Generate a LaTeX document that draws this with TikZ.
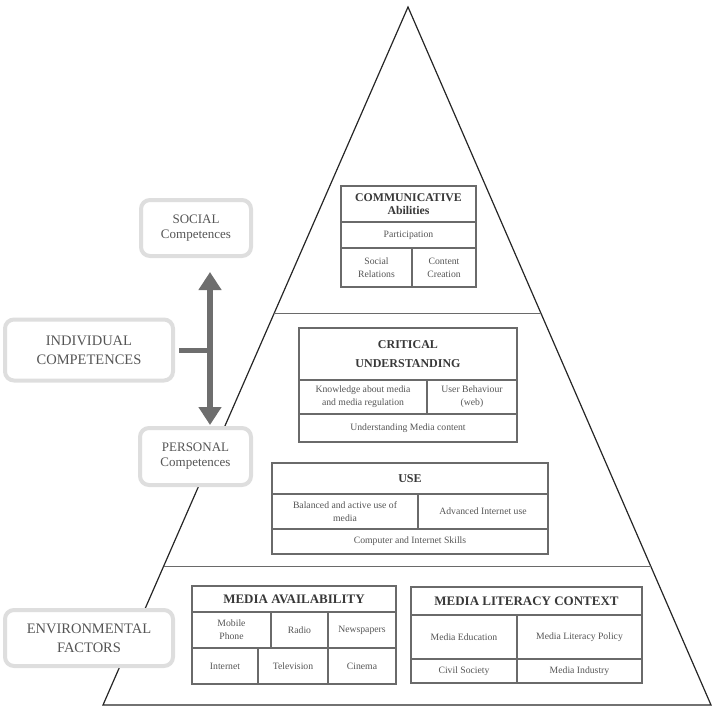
\documentclass[tikz,border=0pt]{standalone}
\usepackage{fontspec}
\setmainfont{Liberation Serif}
\usetikzlibrary{arrows.meta, positioning, calc}
\definecolor{lineGray}{HTML}{6A6A6A}
\definecolor{textGray}{HTML}{555555}
\definecolor{titleGray}{HTML}{383838}
\definecolor{sideGray}{HTML}{DEDEDE}
\definecolor{arrowGray}{HTML}{6E6E6E}
\tikzset{
  dims/.style 2 args = {
    minimum width=#1pt,
    minimum height=#2pt,
  },
  cell/.style = {
    draw=lineGray,
    line width=1.2pt,
    anchor=north west,
    inner sep=1pt,
    outer sep=0pt,
    align=center,
    text=textGray,
    font=\fontsize{9.7}{13}\selectfont,
  },
  heading/.style = {
    cell,
    text=titleGray,
    font=\bfseries\fontsize{12}{13}\selectfont,
  },
  bigHeading/.style = {
    heading,
    font=\bfseries\fontsize{13}{14}\selectfont,
  },
  competence/.style = {
    draw=sideGray,
    line width=4pt,
    rounded corners=9pt,
    fill=white,
    align=center,
    text=textGray,
    inner sep=2pt,
    font=\fontsize{13}{15}\selectfont,
  },
  bigCompetence/.style = {
    competence,
    font=\fontsize{14.5}{19}\selectfont,
  },
  bigArrow/.style = {
    {Triangle[length=18pt, width=22pt]}-{Triangle[length=18pt, width=22pt]},
    line width=6pt,
    draw=arrowGray,
  },
}

\begin{document}
\begin{tikzpicture}[
  x=1pt,
  y=-1pt,
  pyramid/.style = {
    draw=black!85,
    line width=1.2pt,
  },
  divider/.style = {
    draw=lineGray,
    line width=0.9pt,
  },
  bar/.style = {
    draw=arrowGray,
    line width=5pt,
  },
]
\useasboundingbox (0,0) rectangle (712,710);

\coordinate (Apex) at (408,7);
\coordinate (BaseLeft) at (103,705);
\coordinate (BaseRight) at (711,705);

\draw[pyramid] (Apex) -- (BaseLeft) -- (BaseRight) -- cycle;
\draw[divider] ($(Apex)!0.4384!(BaseLeft)$) -- ($(Apex)!0.4384!(BaseRight)$);
\draw[divider] ($(Apex)!0.8009!(BaseLeft)$) -- ($(Apex)!0.8009!(BaseRight)$);

\node (Social)[competence, dims={110}{56}] at (196,228) {SOCIAL\\Competences};
\node (Individual)[bigCompetence, dims={168}{61}] at (89,350) {INDIVIDUAL\\COMPETENCES};
\node (Personal)[competence, dims={111}{57}] at (195.5,456.5) {PERSONAL\\Competences};
\node (Environmental)[bigCompetence, dims={168}{56}] at (89,638) {ENVIRONMENTAL\\FACTORS};

\coordinate (UpTip) at (210,272);
\coordinate (DownTip) at (210,425);
\draw[bigArrow] (DownTip) -- (UpTip);
\draw[bar, shorten <=4pt] (Individual.east) -- (Individual.east -| UpTip);

\node (ComTitle)[heading, dims={135}{36}, font=\bfseries\fontsize{11.8}{12.5}\selectfont] at (341,186) {COMMUNICATIVE\\Abilities};
\node (ComPart)[cell, dims={135}{26}] at (341,222) {Participation};
\node (ComSocial)[cell, dims={71}{39}] at (341,248) {Social\\Relations};
\node (ComContent)[cell, dims={64}{39}] at (412,248) {Content\\Creation};

\node (CritTitle)[heading, dims={218}{52}, font=\bfseries\fontsize{12}{19}\selectfont] at (299,328) {CRITICAL\\UNDERSTANDING};
\node (CritKnow)[cell, dims={128}{34}] at (299,380) {Knowledge about media\\and media regulation};
\node (CritUser)[cell, dims={90}{34}] at (427,380) {User Behaviour\\(web)};
\node (CritContent)[cell, dims={218}{28}] at (299,414) {Understanding Media content};

\node (UseTitle)[heading, dims={276}{31}] at (272,463) {USE};
\node (UseBalanced)[cell, dims={146}{35}] at (272,494) {Balanced and active use of\\media};
\node (UseAdvanced)[cell, dims={130}{35}] at (418,494) {Advanced Internet use};
\node (UseSkills)[cell, dims={276}{25}] at (272,529) {Computer and Internet Skills};

\node (AvailTitle)[bigHeading, dims={204}{26}] at (192,586) {MEDIA AVAILABILITY};
\node (AvailMobile)[cell, dims={79}{36}] at (192,612) {Mobile\\Phone};
\node (AvailRadio)[cell, dims={57}{36}] at (271,612) {Radio};
\node (AvailNews)[cell, dims={68}{36}] at (328,612) {Newspapers};
\node (AvailInternet)[cell, dims={66}{36}] at (192,648) {Internet};
\node (AvailTv)[cell, dims={70}{36}] at (258,648) {Television};
\node (AvailCinema)[cell, dims={68}{36}] at (328,648) {Cinema};

\node (ContextTitle)[bigHeading, dims={231}{28}] at (411,587) {MEDIA LITERACY CONTEXT};
\node (ContextEducation)[cell, dims={106}{44}] at (411,615) {Media Education};
\node (ContextPolicy)[cell, dims={125}{44}] at (517,615) {Media Literacy Policy};
\node (ContextSociety)[cell, dims={106}{24}] at (411,659) {Civil Society};
\node (ContextIndustry)[cell, dims={125}{24}] at (517,659) {Media Industry};

\end{tikzpicture}
\end{document}
